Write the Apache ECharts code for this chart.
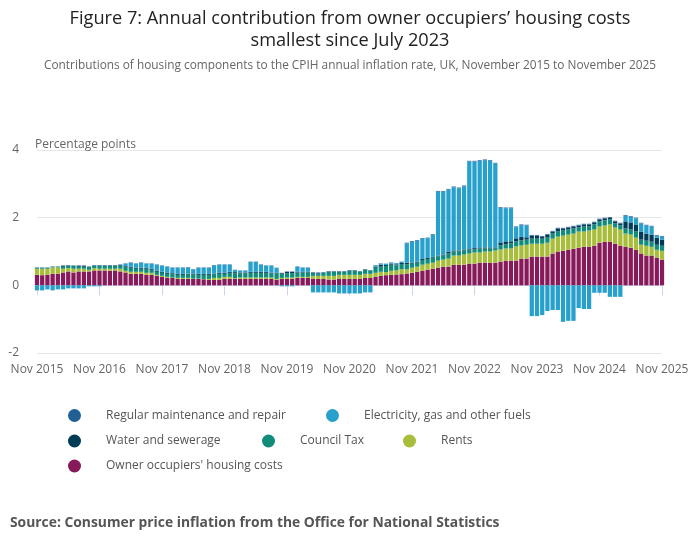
<!DOCTYPE html>
<html>
<head>
<meta charset="utf-8">
<script src="https://cdn.jsdelivr.net/npm/echarts@6/dist/echarts.min.js"></script>
<style>html,body{margin:0;padding:0;background:#fff;}#c{width:700px;height:549px;}</style>
</head>
<body>
<div id="c"></div>
<script>
// Categories: monthly, Nov 2015 to Nov 2025
var monthNames = ['Jan','Feb','Mar','Apr','May','Jun','Jul','Aug','Sep','Oct','Nov','Dec'];
var categories = [];
for (var k = 0; k < 121; k++) {
  var m = (10 + k) % 12, y = 2015 + Math.floor((10 + k) / 12);
  categories.push(monthNames[m] + ' ' + y);
}
var yTicks = [-2, 0, 2, 4];

var ooh = [0.31,0.30,0.31,0.34,0.34,0.38,0.41,0.38,0.41,0.41,0.41,0.44,0.44,0.44,0.43,0.44,0.41,0.38,0.34,0.34,0.34,0.31,
  0.31,0.28,0.25,0.22,0.22,0.19,0.19,0.19,0.19,0.19,0.18,0.16,0.16,0.16,0.19,0.19,0.19,0.19,0.19,0.19,0.19,0.19,0.19,
  0.19,0.16,0.19,0.19,0.19,0.22,0.22,0.22,0.19,0.19,0.19,0.17,0.17,0.19,0.19,0.19,0.19,0.19,0.22,0.22,0.25,0.28,0.30,0.31,0.32,0.33,
  0.35,0.37,0.40,0.43,0.46,0.49,0.52,0.55,0.55,0.61,0.61,0.61,0.64,0.64,0.67,0.67,0.67,0.67,0.70,0.73,0.73,0.73,0.79,0.79,
  0.85,0.85,0.85,0.85,0.94,1.00,1.02,1.05,1.08,1.11,1.14,1.14,1.17,1.26,1.29,1.29,1.23,1.17,1.14,1.11,1.05,0.94,0.88,0.88,0.82,0.76];
var rents = [0.18,0.19,0.18,0.19,0.19,0.11,0.10,0.11,0.08,0.08,0.05,0.07,0.05,0.05,0.06,0.05,0.08,0.05,0.06,0.06,0.06,0.06,
  0.06,0.03,0.03,0.03,0.01,0.03,0.03,0.03,0.01,0.01,0.01,0.03,0.06,0.06,0.06,0.06,0.02,0.04,0.04,0.04,0.04,0.04,0.04,
  0.04,0.03,0.03,0.04,0.04,0.03,0.03,0.03,0.09,0.09,0.09,0.11,0.11,0.12,0.12,0.12,0.12,0.12,0.12,0.12,0.12,0.12,0.09,0.12,0.12,0.15,
  0.12,0.15,0.15,0.18,0.18,0.18,0.21,0.21,0.24,0.27,0.27,0.30,0.30,0.33,0.30,0.33,0.33,0.36,0.36,0.36,0.36,0.42,0.39,0.41,
  0.38,0.38,0.38,0.41,0.44,0.44,0.45,0.45,0.45,0.48,0.45,0.48,0.48,0.48,0.48,0.51,0.48,0.48,0.39,0.39,0.36,0.26,0.29,0.26,0.23,0.26];
var councilTax = [0.03,0.03,0.03,0.02,0.02,0.06,0.07,0.09,0.06,0.06,0.09,0.07,0.09,0.09,0.09,0.09,0.09,0.12,0.12,0.09,0.09,0.12,
  0.09,0.09,0.09,0.09,0.11,0.09,0.09,0.12,0.12,0.11,0.12,0.12,0.12,0.12,0.09,0.12,0.15,0.12,0.12,0.14,0.14,0.14,0.14,
  0.12,0.16,0.12,0.13,0.13,0.13,0.13,0.13,0.09,0.05,0.09,0.12,0.12,0.09,0.09,0.12,0.12,0.09,0.12,0.09,0.15,0.15,0.18,0.18,0.15,0.15,
  0.15,0.12,0.12,0.14,0.14,0.15,0.13,0.12,0.15,0.12,0.12,0.12,0.12,0.09,0.12,0.09,0.09,0.06,0.12,0.12,0.15,0.15,0.15,0.15,
  0.15,0.15,0.15,0.15,0.15,0.15,0.15,0.15,0.15,0.12,0.15,0.12,0.15,0.15,0.15,0.15,0.12,0.12,0.15,0.15,0.18,0.15,0.15,0.15,0.15,0.15];
var water = [0,0,0,0,0,0.03,0.01,0,0.03,0.03,0,0.01,0.01,0.01,0.01,0.01,0.02,0.02,0.03,0.03,0.03,0.03,
  0.03,0.03,0.03,0.03,0.02,0.03,0.03,0.01,0.03,0.03,0.03,0.03,0.01,0.03,0.03,0.03,0.03,0.03,0.03,0.03,0.03,0.03,0.03,
  0.02,0.02,0.02,0.04,0.04,0.02,0.02,0.02,0.01,0.01,0.01,0.01,0.01,0.01,0.01,0.01,0.01,0.01,0.01,0.01,0.03,0.06,0.03,0.03,0.03,0.03,
  0.05,0.03,0.03,0.03,0.03,0.02,0.02,0.03,0.06,0.03,0.03,0.03,0.03,0.04,0.03,0.03,0.03,0.03,0.09,0.09,0.06,0.09,0.10,0.07,
  0.09,0.09,0.06,0.09,0.06,0.09,0.06,0.06,0.06,0.06,0.06,0.06,0.06,0.06,0.06,0.05,0.06,0.06,0.21,0.21,0.21,0.24,0.21,0.21,0.21,0.18];
var electricity = [-0.15,-0.15,-0.12,-0.15,-0.12,-0.12,-0.09,-0.09,-0.09,-0.09,-0.03,-0.03,-0.03,0,0,0,0.01,0.07,0.12,0.12,0.15,0.12,
  0.15,0.18,0.18,0.18,0.16,0.18,0.18,0.18,0.12,0.18,0.18,0.18,0.24,0.24,0.24,0.21,0.06,0.05,0.05,0.29,0.29,0.21,0.18,
  0.21,0.14,-0.03,-0.03,-0.03,0.15,0.12,0.12,-0.21,-0.21,-0.21,-0.21,-0.21,-0.24,-0.24,-0.24,-0.24,-0.24,-0.21,-0.21,0.04,0.03,0.03,0.03,0.03,0.03,
  0.57,0.62,0.62,0.60,0.58,0.65,1.89,1.86,1.83,1.87,1.84,1.87,2.57,2.56,2.56,2.58,2.56,2.48,1.02,0.98,0.98,0.33,0.35,0.35,
  -0.91,-0.91,-0.88,-0.76,-0.73,-0.73,-1.08,-1.05,-1.05,-0.67,-0.70,-0.70,-0.22,-0.22,-0.22,-0.34,-0.34,-0.34,0.17,0.17,0.18,0.24,0.24,0.24,0.06,0.09];
var maintenance = [0.01,0.01,0.01,0.01,0.01,0.01,0.01,0.01,0.01,0.01,0.01,0.01,0.01,0.01,0.01,0.01,0.01,0.01,0.01,0.01,0.01,0.01,
  0.01,0.01,0.01,0.01,0.01,0.01,0.01,0.01,0.01,0.01,0.01,0.01,0.01,0.01,0.01,0.01,0.01,0.01,0.01,0.01,0.01,0.01,0.01,
  0.01,0.01,0.01,0.01,0.01,0.01,0.01,0.01,0.01,0.04,0.01,0.01,0.01,0.01,0.01,0.01,0.01,0.01,0.01,0.01,0.01,0.01,0.01,0.01,0.01,0.01,
  0.02,0.02,0.02,0.02,0.02,0.02,0.02,0.02,0.02,0.02,0.02,0.02,0.02,0.02,0.02,0.02,0.02,0.02,0.02,0.02,0.02,0.02,0.02,0.02,
  0.02,0.02,0.02,0.02,0.02,0.02,0.02,0.02,0.02,0.02,0.02,0.02,0.02,0.02,0.02,0.02,0.02,0.02,0.02,0.02,0.02,0.02,0.02,0.02,0.02,0.02];

var names = {
  maint: 'Regular maintenance and repair',
  elec: 'Electricity, gas and other fuels',
  water: 'Water and sewerage',
  ct: 'Council Tax',
  rents: 'Rents',
  ooh: "Owner occupiers' housing costs"
};
var colors = {maint:'#206095', elec:'#27a0cc', water:'#003c57', ct:'#118c7b', rents:'#a8bd3a', ooh:'#871a5b'};

var FONT = 'Open Sans';
function bar(key, data) {
  return {
    name: names[key], type: 'bar', stack: 'total', data: data,
    barCategoryGap: '18%', itemStyle: {color: colors[key]},
    emphasis: {disabled: true}, animation: false
  };
}
function leg(key, left, top) {
  return {
    data: [names[key]], left: left, top: top, icon: 'circle', padding: 0,
    itemWidth: 13, itemHeight: 13, selectedMode: false,
    textStyle: {color: '#555', fontSize: 12, fontFamily: FONT, padding: [0,0,0,20]}
  };
}

var chart = echarts.init(document.getElementById('c'), null, {renderer: 'canvas'});
chart.setOption({
  animation: false,
  textStyle: {fontFamily: FONT},
  title: [
    {text: 'Figure 7: Annual contribution from owner occupiers’ housing costs\nsmallest since July 2023',
     left: 350, top: 8, textAlign: 'center', padding: 0,
     textStyle: {fontSize: 18.2, fontWeight: 'normal', color: '#222', lineHeight: 22, fontFamily: FONT}},
    {text: 'Contributions of housing components to the CPIH annual inflation rate, UK, November 2015 to November 2025',
     left: 350, top: 60, textAlign: 'center', padding: 0,
     textStyle: {fontSize: 11.85, fontWeight: 'normal', color: '#666', fontFamily: FONT}},
    {text: 'Percentage points', left: 35, top: 139, padding: 0,
     textStyle: {fontSize: 12, fontWeight: 'normal', color: '#666', fontFamily: FONT}},
    {text: 'Source: Consumer price inflation from the Office for National Statistics', left: 10, top: 516, padding: 0,
     textStyle: {fontSize: 13.85, fontWeight: 'bold', color: '#555', fontFamily: FONT}}
  ],
  legend: [
    leg('maint', 68, 409),
    leg('elec', 326, 409),
    leg('water', 68, 434.5),
    leg('ct', 262, 434.5),
    leg('rents', 403, 434.5),
    leg('ooh', 68, 459.5)
  ],
  grid: {left: 37, right: 38, top: 150, bottom: 196, containLabel: false},
  xAxis: {
    type: 'category', data: categories, boundaryGap: false,
    axisLine: {lineStyle: {color: '#ccd6eb'}},
    axisTick: {interval: 11, length: 10, lineStyle: {color: '#ccd6eb'}},
    axisLabel: {interval: 11, color: '#666', fontSize: 12, margin: 11, fontFamily: FONT},
    splitLine: {show: false}
  },
  yAxis: {
    type: 'value', min: yTicks[0], max: yTicks[yTicks.length-1], interval: 2,
    axisLine: {show: false}, axisTick: {show: false},
    axisLabel: {color: '#666', fontSize: 12, margin: 18, fontFamily: FONT, padding: [4,0,0,0]},
    splitLine: {lineStyle: {color: '#e6e6e6'}}
  },
  series: [
    bar('ooh', ooh),
    bar('rents', rents),
    bar('ct', councilTax),
    bar('water', water),
    bar('elec', electricity),
    bar('maint', maintenance)
  ]
});
</script>
</body>
</html>
